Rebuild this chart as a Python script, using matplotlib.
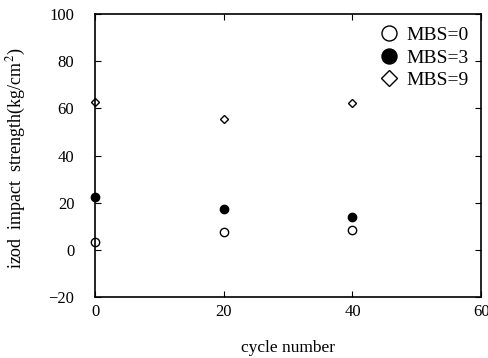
import matplotlib.pyplot as plt

plt.rcParams['font.family'] = ['Liberation Serif', 'DejaVu Serif']
plt.rcParams['mathtext.fontset'] = 'stix'

cycles = [0, 20, 40]
mbs0 = [3.5, 7.8, 8.5]
mbs3 = [22.5, 17.3, 14.0]
mbs9 = [62.8, 55.5, 62.4]

fig = plt.figure(figsize=(4.88, 3.58), dpi=100)
ax = fig.add_axes([0.195, 0.170, 0.791, 0.791])

ax.plot(cycles, mbs0, 'o', mfc='white', mec='black', mew=1.0, ms=6, label='MBS=0', clip_on=False)
ax.plot(cycles, mbs3, 'o', mfc='black', mec='black', ms=6, label='MBS=3', clip_on=False)
ax.plot(cycles, mbs9, 'D', mfc='white', mec='black', mew=1.0, ms=4.5, label='MBS=9', clip_on=False)

ax.set_xlim(0, 59.5)
ax.set_ylim(-20, 100)
ax.set_xticks([0, 20, 40, 60])
ax.set_yticks([-20, 0, 20, 40, 60, 80, 100])
ax.set_yticklabels(['\u221220', '0', '20', '40', '60', '80', '100'])
ax.tick_params(direction='in', top=True, right=True, length=4, labelsize=12)
ax.tick_params(axis='y', pad=15)
ax.tick_params(axis='x', pad=5)
for s in ax.spines.values():
    s.set_linewidth(1.2)

ax.set_xlabel('cycle number', fontsize=12.5, labelpad=14)
ax.set_ylabel('izod  impact  strength(kg/cm$^2$)', fontsize=13)
ax.yaxis.set_label_coords(-0.175, 0.49)

ax.legend(loc='upper right', frameon=False, fontsize=14, markerscale=1.8,
          handletextpad=0.3, handlelength=1.2, labelspacing=0.25,
          bbox_to_anchor=(1.0, 1.0), borderaxespad=0.25)

fig.savefig('out.png', dpi=100)
